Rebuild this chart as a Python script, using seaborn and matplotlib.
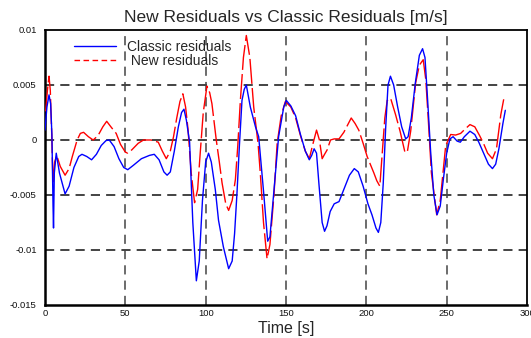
import matplotlib
matplotlib.use("Agg")
import matplotlib.pyplot as plt
from matplotlib.lines import Line2D
import seaborn as sns
import pandas as pd

# ---- data ----
t_classic = [0, 1.2, 2.5, 3.5, 4.3, 5.0, 5.3, 5.8, 7, 9, 12.5, 15, 18, 21, 23, 26, 29, 32, 35, 38,
             40, 43, 46, 49, 51.5, 55, 60, 65, 68, 71, 74, 76, 78, 80.5, 83, 85, 86.5, 88, 90, 92,
             94.2, 96, 98, 100, 101.8, 103.5, 106, 108, 111, 114.3, 116.5, 118, 119.5, 121, 122.6,
             124, 125.3, 127.8, 131, 133, 136.1, 138.6, 140, 142.4, 145.4, 148.6, 150.2, 153, 156,
             159, 162, 164.5, 166, 167.5, 169, 170.5, 172.5, 174, 175.5, 177.5, 180, 183, 186, 189.5,
             192.5, 195, 198, 201, 203.5, 206, 207.5, 209, 210.5, 212, 213.5, 215, 217, 219.5, 222,
             224.5, 226, 228, 230.5, 233, 235, 236.5, 238, 240, 242, 244, 246, 248, 250, 252, 254,
             256.5, 258.5, 261, 264.5, 267.5, 270, 273, 276, 278.5, 280.5, 282.5, 285, 286.5]
classic = [0.0009, 0.0030, 0.0041, 0.0033, 0.0005, -0.0060, -0.0080, -0.0030, -0.0012, -0.0030,
           -0.0049, -0.0042, -0.0025, -0.0015, -0.0013, -0.0015, -0.0018, -0.0013, -0.0005, -0.00005,
           0.0000, -0.0006, -0.0017, -0.0025, -0.0027, -0.0023, -0.0017, -0.0014, -0.0013, -0.0018,
           -0.0029, -0.0032, -0.0029, -0.0010, 0.0012, 0.0025, 0.0028, 0.0018, -0.0002, -0.0075,
           -0.0128, -0.0110, -0.0055, -0.0020, -0.0012, -0.0020, -0.0045, -0.0073, -0.0097, -0.0117,
           -0.0110, -0.0085, -0.0048, -0.0005, 0.0036, 0.0046, 0.0050, 0.0030, 0.0012, 0.0003,
           -0.0048, -0.0092, -0.0088, -0.0048, 0.0003, 0.0030, 0.0036, 0.0031, 0.0022, 0.0005,
           -0.0010, -0.0018, -0.0014, -0.0008, -0.0012, -0.0040, -0.0075, -0.0083, -0.0078, -0.0065,
           -0.0058, -0.0056, -0.0045, -0.0032, -0.0026, -0.0029, -0.0042, -0.0058, -0.0068, -0.0080,
           -0.0084, -0.0075, -0.0040, 0.0010, 0.0050, 0.0058, 0.0050, 0.0030, 0.0012, 0.0001,
           0.0003, 0.0020, 0.0052, 0.0077, 0.0083, 0.0075, 0.0040, -0.0010, -0.0050, -0.0068,
           -0.0060, -0.0035, -0.0012, 0.0001, 0.0003, -0.0001, -0.0002, 0.0003, 0.0008, 0.0005,
           -0.0002, -0.0012, -0.0022, -0.0026, -0.0022, -0.0008, 0.0015, 0.0027]

t_new = [0.4, 1.5, 2.5, 3.3, 4.2, 5, 6, 7.3, 9.5, 12.5, 15, 17, 20, 22, 24, 27, 30, 33, 36, 38.4,
         41, 44.3, 47, 50, 51.5, 54, 58, 61.3, 66, 70.5, 73, 75.5, 78, 80, 82, 84, 85.8, 87.5, 89,
         91, 93.1, 95, 96.6, 98.5, 100.8, 102.5, 103.9, 106.6, 108.5, 110.2, 112.5, 114.3, 116.5,
         118.5, 120, 121.6, 123.5, 125.3, 127.5, 129.9, 132.6, 134, 136, 138.2, 140, 142.5, 144.5,
         147, 149.6, 153, 156, 159, 162, 164.5, 166.5, 169, 170.8, 172.5, 174, 175.6, 177.7, 180,
         183, 186, 190.6, 193, 195.3, 198, 200.5, 204.7, 206.5, 208.4, 210, 211.5, 213, 215.1,
         218.2, 221, 224, 225.5, 227.6, 230.7, 233, 235.4, 237, 238.5, 240.5, 243.8, 246, 249.4,
         252.5, 255.6, 258.7, 261.5, 264.5, 267.5, 270.5, 272.9, 275.5, 278.5, 281, 283.7, 285.5]
new = [0.0026, 0.0045, 0.0058, 0.0045, 0.0005, -0.0040, -0.0020, -0.0014, -0.0024, -0.0032,
       -0.0026, -0.0015, 0.0000, 0.0006, 0.0007, 0.0003, 0.0000, 0.0004, 0.0012, 0.0017,
       0.0012, 0.0006, -0.0004, -0.0011, -0.0012, -0.0009, -0.0003, 0.0000, 0.0000, -0.0002,
       -0.0010, -0.0017, -0.0010, 0.0003, 0.0020, 0.0035, 0.0042, 0.0030, 0.0010, -0.0030,
       -0.0057, -0.0045, -0.0012, 0.0025, 0.0049, 0.0043, 0.0033, 0.0000, -0.0020, -0.0039,
       -0.0058, -0.0064, -0.0055, -0.0036, -0.0005, 0.0036, 0.0075, 0.0095, 0.0075, 0.0030,
       -0.0003, -0.0030, -0.0075, -0.0108, -0.0095, -0.0050, -0.0003, 0.0022, 0.0035, 0.0030,
       0.0020, 0.0004, -0.0010, -0.0017, -0.0005, 0.0009, 0.0000, -0.0017, -0.0013, -0.0009,
       0.0000, 0.0001, 0.0001, 0.0007, 0.0020, 0.0015, 0.0009, -0.0003, -0.0015, -0.0030,
       -0.0037, -0.0042, -0.0010, 0.0020, 0.0036, 0.0038, 0.0023, 0.0008, -0.0011, -0.0011,
       0.0008, 0.0052, 0.0068, 0.0073, 0.0055, 0.0020, -0.0030, -0.0068, -0.0055, -0.0005,
       0.0005, 0.00045, 0.0006, 0.0010, 0.0014, 0.0012, 0.0004, -0.0003, -0.0012, -0.0017,
       -0.0008, 0.0023, 0.0037]

x_ticks = [0, 50, 100, 150, 200, 250, 300]
y_ticks = [-0.015, -0.01, -0.005, 0, 0.005, 0.01]
y_tick_labels = ["-0.015", "-0.01", "-0.005", "0", "0.005", "0.01"]

title = "New Residuals vs Classic Residuals [m/s]"
xlabel = "Time [s]"
label_classic = "Classic residuals"
label_new = " New residuals"

# ---- plot ----
sns.set_theme(style="white")
plt.rcParams["font.family"] = ["Liberation Sans", "DejaVu Sans"]

fig = plt.figure(figsize=(5.31, 3.38), dpi=100)
ax = fig.add_axes([45 / 531, 1 - 305 / 338, 482 / 531, 275 / 338])

df_c = pd.DataFrame({"t": t_classic, "v": classic})
df_n = pd.DataFrame({"t": t_new, "v": new})

sns.lineplot(data=df_c, x="t", y="v", ax=ax, color="#0000FF", linewidth=1.0,
             estimator=None, sort=False, zorder=4)
sns.lineplot(data=df_n, x="t", y="v", ax=ax, color="#FF0000", linewidth=1.0,
             estimator=None, sort=False, zorder=3, dashes=False)
ax.lines[-1].set_linestyle((0, (18, 3)))

ax.set_xlim(0, 300)
ax.set_ylim(-0.015, 0.01)
ax.set_xticks(x_ticks)
ax.set_xticklabels([str(v) for v in x_ticks])
ax.set_yticks(y_ticks)
ax.set_yticklabels(y_tick_labels)
ax.tick_params(axis="both", length=0, labelsize=6.8, colors="#111111")
ax.tick_params(axis="y", pad=6)
ax.tick_params(axis="x", pad=3)

# grid
for yv in y_ticks[1:-1]:
    ax.axhline(yv, color="#111111", linewidth=1.1, linestyle=(0, (6, 4)), zorder=1)
for xv in x_ticks[1:-1]:
    ax.axvline(xv, color="#444444", linewidth=1.1, linestyle=(0, (6, 4)), zorder=1)

for side, lw in [("left", 1.8), ("bottom", 1.8), ("top", 1.3), ("right", 1.3)]:
    ax.spines[side].set_visible(True)
    ax.spines[side].set_color("black")
    ax.spines[side].set_linewidth(lw)

ax.set_title(title, fontsize=12.5, pad=6)
ax.set_xlabel(xlabel, fontsize=11.5, labelpad=2)
ax.set_ylabel("")

handles = [Line2D([], [], color="#0000FF", linewidth=1.0),
           Line2D([], [], color="#FF0000", linewidth=1.0, linestyle=(0, (4, 2.5)))]
ax.legend(handles, [label_classic, label_new], loc="upper left",
          bbox_to_anchor=(0.06, 0.965), frameon=False, fontsize=10,
          handlelength=3.0, handletextpad=0.85, labelspacing=0.0,
          borderpad=0, borderaxespad=0)

fig.savefig("out.png", dpi=100)
